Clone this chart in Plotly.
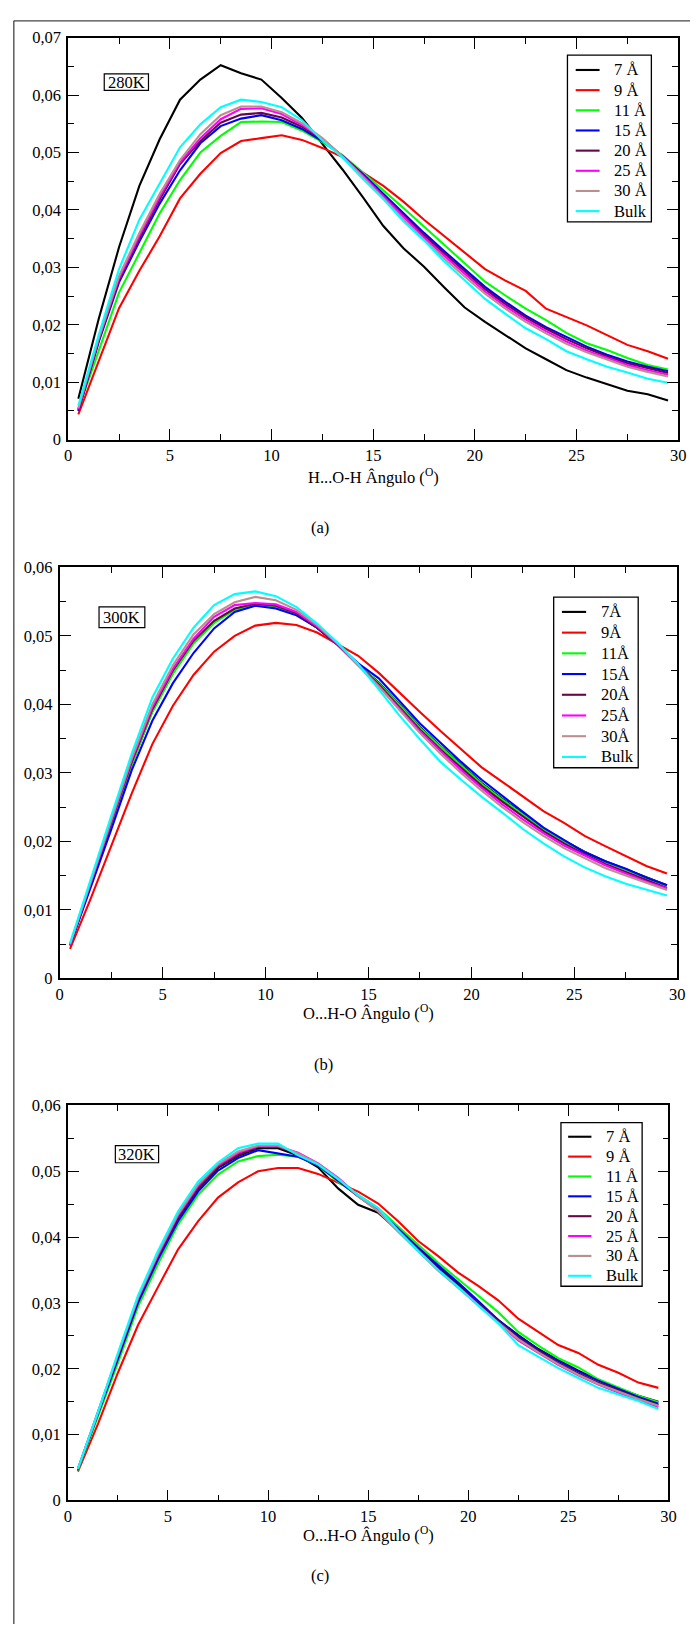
import plotly.graph_objects as go

W, H = 698, 1634

# Angle bins (degrees)
angles = [i + 0.5 for i in range(30)]

series_labels_a = ["7 Å", "9 Å", "11 Å", "15 Å", "20 Å", "25 Å", "30 Å", "Bulk"]
series_labels_b = ["7Å", "9Å", "11Å", "15Å", "20Å", "25Å", "30Å", "Bulk"]
series_labels_c = ["7 Å", "9 Å", "11 Å", "15 Å", "20 Å", "25 Å", "30 Å", "Bulk"]
colors = ["#000000", "#ff0000", "#00ff00", "#0000ff", "#670748", "#ff00ff", "#bc8f8f", "#00ffff"]

# 280 K: H...O-H angle distribution
t280_7 = [0.0071, 0.0210, 0.0335, 0.0442, 0.0523, 0.0592, 0.0627, 0.0652, 0.0638, 0.0627, 0.0595, 0.0560, 0.0515, 0.0470, 0.0422,
          0.0372, 0.0333, 0.0301, 0.0265, 0.0230, 0.0205, 0.0182, 0.0159, 0.0140, 0.0121, 0.0108, 0.0096, 0.0085, 0.0079, 0.0068]
t280_9 = [0.0044, 0.0136, 0.0229, 0.0294, 0.0354, 0.0420, 0.0463, 0.0499, 0.0520, 0.0525, 0.0530, 0.0522, 0.0508, 0.0492, 0.0465,
          0.0442, 0.0414, 0.0383, 0.0354, 0.0325, 0.0297, 0.0277, 0.0259, 0.0228, 0.0213, 0.0199, 0.0182, 0.0165, 0.0154, 0.0141]
t280_11 = [0.0053, 0.0156, 0.0256, 0.0325, 0.0394, 0.0452, 0.0500, 0.0529, 0.0553, 0.0554, 0.0553, 0.0538, 0.0518, 0.0495, 0.0465,
           0.0434, 0.0403, 0.0371, 0.0340, 0.0308, 0.0275, 0.0251, 0.0228, 0.0208, 0.0186, 0.0168, 0.0156, 0.0142, 0.0130, 0.0122]
t280_15 = [0.0050, 0.0170, 0.0274, 0.0345, 0.0411, 0.0469, 0.0516, 0.0546, 0.0559, 0.0565, 0.0556, 0.0541, 0.0520, 0.0494, 0.0462,
           0.0428, 0.0394, 0.0360, 0.0328, 0.0297, 0.0266, 0.0240, 0.0216, 0.0196, 0.0179, 0.0162, 0.0148, 0.0136, 0.0127, 0.0119]
t280_20 = [0.0051, 0.0172, 0.0278, 0.0350, 0.0418, 0.0480, 0.0520, 0.0552, 0.0566, 0.0569, 0.0561, 0.0545, 0.0522, 0.0493, 0.0460,
           0.0425, 0.0390, 0.0356, 0.0324, 0.0293, 0.0262, 0.0236, 0.0213, 0.0193, 0.0175, 0.0159, 0.0145, 0.0133, 0.0124, 0.0116]
t280_25 = [0.0053, 0.0175, 0.0281, 0.0355, 0.0423, 0.0483, 0.0525, 0.0558, 0.0576, 0.0577, 0.0567, 0.0548, 0.0524, 0.0493, 0.0459,
           0.0423, 0.0387, 0.0352, 0.0320, 0.0289, 0.0258, 0.0232, 0.0209, 0.0189, 0.0171, 0.0155, 0.0142, 0.0130, 0.0121, 0.0113]
t280_30 = [0.0055, 0.0177, 0.0285, 0.0360, 0.0428, 0.0487, 0.0532, 0.0565, 0.0580, 0.0580, 0.0570, 0.0551, 0.0525, 0.0493, 0.0457,
           0.0420, 0.0383, 0.0348, 0.0315, 0.0284, 0.0254, 0.0228, 0.0205, 0.0185, 0.0167, 0.0152, 0.0139, 0.0127, 0.0118, 0.0110]
t280_bulk = [0.0059, 0.0182, 0.0297, 0.0383, 0.0446, 0.0509, 0.0549, 0.0579, 0.0592, 0.0588, 0.0579, 0.0556, 0.0521, 0.0491, 0.0454,
             0.0419, 0.0380, 0.0347, 0.0310, 0.0277, 0.0245, 0.0219, 0.0194, 0.0175, 0.0154, 0.0140, 0.0127, 0.0117, 0.0106, 0.0099]

# 300 K: O...H-O angle distribution
t300_7 = [0.0048, 0.0136, 0.0225, 0.0313, 0.0390, 0.0446, 0.0490, 0.0520, 0.0539, 0.0546, 0.0543, 0.0532, 0.0512, 0.0487, 0.0458,
          0.0432, 0.0400, 0.0367, 0.0339, 0.0312, 0.0285, 0.0262, 0.0240, 0.0219, 0.0201, 0.0185, 0.0171, 0.0159, 0.0147, 0.0136]
t300_9 = [0.0043, 0.0116, 0.0193, 0.0270, 0.0342, 0.0398, 0.0443, 0.0477, 0.0500, 0.0515, 0.0519, 0.0516, 0.0505, 0.0488, 0.0471,
          0.0446, 0.0417, 0.0389, 0.0361, 0.0334, 0.0308, 0.0287, 0.0266, 0.0244, 0.0227, 0.0208, 0.0193, 0.0179, 0.0164, 0.0153]
t300_11 = [0.0048, 0.0135, 0.0224, 0.0312, 0.0389, 0.0445, 0.0489, 0.0519, 0.0538, 0.0545, 0.0542, 0.0531, 0.0512, 0.0487, 0.0458,
           0.0431, 0.0399, 0.0366, 0.0338, 0.0311, 0.0284, 0.0261, 0.0239, 0.0218, 0.0200, 0.0184, 0.0170, 0.0158, 0.0146, 0.0135]
t300_15 = [0.0048, 0.0131, 0.0217, 0.0304, 0.0376, 0.0431, 0.0475, 0.0511, 0.0535, 0.0544, 0.0540, 0.0530, 0.0512, 0.0487, 0.0460,
           0.0438, 0.0405, 0.0372, 0.0344, 0.0316, 0.0290, 0.0266, 0.0243, 0.0220, 0.0202, 0.0184, 0.0171, 0.0160, 0.0147, 0.0136]
t300_20 = [0.0049, 0.0138, 0.0228, 0.0316, 0.0393, 0.0450, 0.0493, 0.0522, 0.0540, 0.0547, 0.0544, 0.0533, 0.0512, 0.0487, 0.0457,
           0.0429, 0.0396, 0.0363, 0.0334, 0.0307, 0.0281, 0.0258, 0.0236, 0.0215, 0.0197, 0.0181, 0.0167, 0.0155, 0.0143, 0.0132]
t300_25 = [0.0049, 0.0139, 0.0230, 0.0319, 0.0396, 0.0452, 0.0496, 0.0528, 0.0545, 0.0548, 0.0546, 0.0535, 0.0514, 0.0488, 0.0457,
           0.0427, 0.0394, 0.0361, 0.0332, 0.0304, 0.0278, 0.0254, 0.0232, 0.0212, 0.0194, 0.0179, 0.0165, 0.0153, 0.0141, 0.0131]
t300_30 = [0.0050, 0.0141, 0.0232, 0.0322, 0.0400, 0.0457, 0.0502, 0.0532, 0.0549, 0.0557, 0.0552, 0.0538, 0.0516, 0.0489, 0.0457,
           0.0426, 0.0392, 0.0358, 0.0328, 0.0300, 0.0274, 0.0250, 0.0228, 0.0208, 0.0190, 0.0175, 0.0161, 0.0150, 0.0139, 0.0129]
t300_bulk = [0.0051, 0.0145, 0.0237, 0.0328, 0.0410, 0.0467, 0.0512, 0.0545, 0.0561, 0.0565, 0.0558, 0.0542, 0.0518, 0.0490, 0.0459,
             0.0422, 0.0384, 0.0349, 0.0316, 0.0290, 0.0265, 0.0242, 0.0218, 0.0197, 0.0178, 0.0162, 0.0149, 0.0138, 0.0129, 0.0121]

# 320 K: O...H-O angle distribution
t320_7 = [0.0047, 0.0131, 0.0217, 0.0303, 0.0369, 0.0427, 0.0473, 0.0505, 0.0523, 0.0535, 0.0535, 0.0524, 0.0506, 0.0474, 0.0449,
          0.0437, 0.0410, 0.0382, 0.0355, 0.0328, 0.0299, 0.0274, 0.0251, 0.0230, 0.0213, 0.0197, 0.0183, 0.0170, 0.0159, 0.0150]
t320_9 = [0.0044, 0.0116, 0.0194, 0.0266, 0.0324, 0.0381, 0.0424, 0.0460, 0.0483, 0.0500, 0.0505, 0.0505, 0.0496, 0.0483, 0.0469,
          0.0451, 0.0424, 0.0394, 0.0371, 0.0346, 0.0326, 0.0304, 0.0276, 0.0256, 0.0236, 0.0224, 0.0206, 0.0194, 0.0179, 0.0171]
t320_11 = [0.0046, 0.0126, 0.0209, 0.0294, 0.0359, 0.0419, 0.0464, 0.0495, 0.0515, 0.0523, 0.0525, 0.0522, 0.0509, 0.0484, 0.0464,
           0.0444, 0.0416, 0.0389, 0.0361, 0.0336, 0.0311, 0.0286, 0.0256, 0.0235, 0.0216, 0.0202, 0.0184, 0.0171, 0.0159, 0.0149]
t320_15 = [0.0047, 0.0130, 0.0215, 0.0300, 0.0366, 0.0424, 0.0469, 0.0501, 0.0520, 0.0532, 0.0527, 0.0522, 0.0509, 0.0486, 0.0462,
           0.0441, 0.0412, 0.0384, 0.0357, 0.0331, 0.0303, 0.0274, 0.0250, 0.0229, 0.0212, 0.0196, 0.0182, 0.0169, 0.0157, 0.0147]
t320_20 = [0.0047, 0.0132, 0.0219, 0.0305, 0.0371, 0.0430, 0.0475, 0.0507, 0.0525, 0.0537, 0.0537, 0.0526, 0.0510, 0.0487, 0.0462,
           0.0440, 0.0410, 0.0381, 0.0352, 0.0326, 0.0299, 0.0272, 0.0247, 0.0227, 0.0209, 0.0193, 0.0179, 0.0167, 0.0155, 0.0145]
t320_25 = [0.0048, 0.0133, 0.0221, 0.0307, 0.0373, 0.0433, 0.0478, 0.0509, 0.0528, 0.0538, 0.0538, 0.0528, 0.0512, 0.0490, 0.0463,
           0.0440, 0.0409, 0.0380, 0.0350, 0.0324, 0.0297, 0.0270, 0.0243, 0.0224, 0.0206, 0.0190, 0.0176, 0.0164, 0.0152, 0.0142]
t320_30 = [0.0048, 0.0133, 0.0222, 0.0308, 0.0375, 0.0435, 0.0480, 0.0511, 0.0530, 0.0539, 0.0539, 0.0527, 0.0511, 0.0489, 0.0462,
           0.0439, 0.0408, 0.0379, 0.0349, 0.0323, 0.0296, 0.0270, 0.0245, 0.0225, 0.0207, 0.0191, 0.0177, 0.0165, 0.0154, 0.0144]
t320_bulk = [0.0048, 0.0134, 0.0224, 0.0311, 0.0379, 0.0439, 0.0484, 0.0513, 0.0535, 0.0542, 0.0542, 0.0524, 0.0510, 0.0488, 0.0464,
             0.0444, 0.0410, 0.0379, 0.0350, 0.0324, 0.0296, 0.0269, 0.0236, 0.0219, 0.0201, 0.0186, 0.0171, 0.0161, 0.0151, 0.0139]

x_tickvals = [0, 5, 10, 15, 20, 25, 30]
x_ticktext = ["0", "5", "10", "15", "20", "25", "30"]
x_minor = [2.5, 7.5, 12.5, 17.5, 22.5, 27.5]
y_tickvals_a = [0, 0.01, 0.02, 0.03, 0.04, 0.05, 0.06, 0.07]
y_ticktext_a = ["0", "0,01", "0,02", "0,03", "0,04", "0,05", "0,06", "0,07"]
y_minor_a = [0.005, 0.015, 0.025, 0.035, 0.045, 0.055, 0.065]
y_tickvals_bc = [0, 0.01, 0.02, 0.03, 0.04, 0.05, 0.06]
y_ticktext_bc = ["0", "0,01", "0,02", "0,03", "0,04", "0,05", "0,06"]
y_minor_bc = [0.005, 0.015, 0.025, 0.035, 0.045, 0.055]

FONT = "Liberation Serif, Times New Roman, serif"


def fx(p):
    return p / W


def fy(p):
    return 1 - p / H


panels = [
    dict(series=[t280_7, t280_9, t280_11, t280_15, t280_20, t280_25, t280_30, t280_bulk],
         labels=series_labels_a, xpx=(65.3, 686.0), ypx=(29.0, 435.7), ymax=0.07,
         yticks=(y_tickvals_a, y_ticktext_a, y_minor_a),
         title="H...O-H Ângulo (<sup>O</sup>)", title_xy=(375.5, 473.0), tag="(a)", tag_xy=(322.0, 525.0),
         temp="280K", temp_box=(102.0, 65.7, 147.0, 82.3),
         leg_box=(573.3, 46.7, 658.7, 215.3), leg_line=(581.7, 606.0), leg_text=618.3, leg_y0=61.7, leg_dy=20.4),
    dict(series=[t300_7, t300_9, t300_11, t300_15, t300_20, t300_25, t300_30, t300_bulk],
         labels=series_labels_b, xpx=(56.7, 685.0), ypx=(565.0, 980.7), ymax=0.06,
         yticks=(y_tickvals_bc, y_ticktext_bc, y_minor_bc),
         title="O...H-O Ângulo (<sup>O</sup>)", title_xy=(371.0, 1015.0), tag="(b)", tag_xy=(325.0, 1068.0),
         temp="300K", temp_box=(96.7, 605.0, 143.3, 626.0),
         leg_box=(559.3, 595.0, 645.3, 767.7), leg_line=(567.7, 592.3), leg_text=605.0, leg_y0=610.0, leg_dy=20.96),
    dict(series=[t320_7, t320_9, t320_11, t320_15, t320_20, t320_25, t320_30, t320_bulk],
         labels=series_labels_c, xpx=(65.0, 676.0), ypx=(1109.3, 1509.0), ymax=0.06,
         yticks=(y_tickvals_bc, y_ticktext_bc, y_minor_bc),
         title="O...H-O Ângulo (<sup>O</sup>)", title_xy=(370.5, 1543.0), tag="(c)", tag_xy=(322.0, 1585.0),
         temp="320K", temp_box=(113.3, 1150.0, 157.3, 1167.3),
         leg_box=(566.7, 1126.7, 649.3, 1292.3), leg_line=(574.0, 597.7), leg_text=610.0, leg_y0=1141.0, leg_dy=20.1),
]

fig = go.Figure()
shapes = []
annotations = []

tickfont = dict(family=FONT, size=16.5, color="black")

for i, p in enumerate(panels):
    n = "" if i == 0 else str(i + 1)
    xname, yname = "x" + n, "y" + n
    for s, lab, col in zip(p["series"], p["labels"], colors):
        fig.add_trace(go.Scatter(x=angles, y=s, mode="lines", name=lab, showlegend=False,
                                 line=dict(color=col, width=2.1), xaxis=xname, yaxis=yname))

    common = dict(showline=True, linecolor="black", linewidth=1.7, mirror="ticks",
                  ticks="inside", ticklen=11, tickwidth=1.4, tickcolor="black",
                  showgrid=False, zeroline=False, tickfont=tickfont)
    fig.layout["xaxis" + n] = dict(
        common, domain=[fx(p["xpx"][0]), fx(p["xpx"][1])], range=[0, 30], anchor=yname,
        tickmode="array", tickvals=x_tickvals, ticktext=x_ticktext,
        minor=dict(ticks="inside", ticklen=6, tickwidth=1.2, tickcolor="black",
                   tickmode="array", tickvals=x_minor, showgrid=False))
    tv, tt, tm = p["yticks"]
    fig.layout["yaxis" + n] = dict(
        common, domain=[fy(p["ypx"][1]), fy(p["ypx"][0])], range=[0, p["ymax"]], anchor=xname,
        tickmode="array", tickvals=tv, ticktext=tt, ticklabelstandoff=2,
        minor=dict(ticks="inside", ticklen=6, tickwidth=1.2, tickcolor="black",
                   tickmode="array", tickvals=tm, showgrid=False))

    # axis title and panel tag
    annotations.append(dict(text=p["title"], x=fx(p["title_xy"][0]), y=fy(p["title_xy"][1]),
                            xref="paper", yref="paper", showarrow=False, xanchor="center", yanchor="middle",
                            font=dict(family=FONT, size=16.5, color="black")))
    annotations.append(dict(text=p["tag"], x=fx(p["tag_xy"][0]), y=fy(p["tag_xy"][1]),
                            xref="paper", yref="paper", showarrow=False, xanchor="center", yanchor="middle",
                            font=dict(family=FONT, size=16.5, color="black")))

    # temperature box
    x0, y0, x1, y1 = p["temp_box"]
    shapes.append(dict(type="rect", xref="paper", yref="paper", x0=fx(x0), x1=fx(x1), y0=fy(y1), y1=fy(y0),
                       line=dict(color="black", width=1.2), fillcolor="rgba(0,0,0,0)"))
    annotations.append(dict(text=p["temp"], x=fx((x0 + x1) / 2), y=fy((y0 + y1) / 2), xref="paper", yref="paper",
                            showarrow=False, xanchor="center", yanchor="middle",
                            font=dict(family=FONT, size=16.5, color="black")))

    # legend box
    bx0, by0, bx1, by1 = p["leg_box"]
    shapes.append(dict(type="rect", xref="paper", yref="paper", x0=fx(bx0), x1=fx(bx1), y0=fy(by1), y1=fy(by0),
                       line=dict(color="black", width=1.3), fillcolor="white", layer="above"))
    for k, (lab, col) in enumerate(zip(p["labels"], colors)):
        yy = p["leg_y0"] + k * p["leg_dy"]
        shapes.append(dict(type="line", xref="paper", yref="paper", x0=fx(p["leg_line"][0]), x1=fx(p["leg_line"][1]),
                           y0=fy(yy), y1=fy(yy), line=dict(color=col, width=2.1), layer="above"))
        annotations.append(dict(text=lab, x=fx(p["leg_text"]), y=fy(yy), xref="paper", yref="paper",
                                showarrow=False, xanchor="left", yanchor="middle",
                                font=dict(family=FONT, size=16.5, color="black")))

# outer frame (left and top edges)
shapes.append(dict(type="line", xref="paper", yref="paper", x0=fx(10), x1=fx(698), y0=fy(12), y1=fy(12),
                   line=dict(color="#444444", width=1.3)))
shapes.append(dict(type="line", xref="paper", yref="paper", x0=fx(10), x1=fx(10), y0=fy(12), y1=0,
                   line=dict(color="#444444", width=1.3)))

fig.update_layout(width=W, height=H, margin=dict(l=0, r=0, t=0, b=0), autosize=False,
                  paper_bgcolor="white", plot_bgcolor="white", showlegend=False,
                  shapes=shapes, annotations=annotations,
                  font=dict(family=FONT, size=16.5, color="black"))

fig.write_html("out.html")
